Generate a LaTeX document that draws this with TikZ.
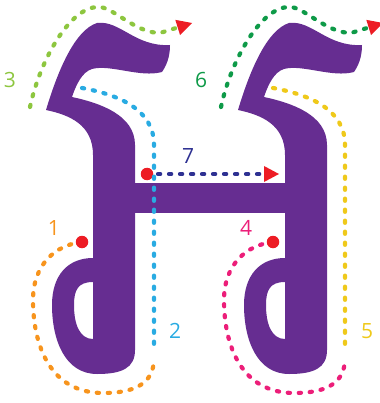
\documentclass[tikz,border=0pt]{standalone}
\usepackage{fontspec}
\newfontfamily\digitfont{Open Sans}
\usetikzlibrary{arrows.meta}
\definecolor{glpurple}{HTML}{662D91}
\definecolor{glred}{HTML}{ED1C24}
\definecolor{glorange}{HTML}{F7941D}
\definecolor{glblue}{HTML}{29ABE2}
\definecolor{gllime}{HTML}{8DC63F}
\definecolor{glpink}{HTML}{EC1E79}
\definecolor{glyellow}{HTML}{EFC91A}
\definecolor{glgreen}{HTML}{0E9A48}
\definecolor{glnavy}{HTML}{2E3192}
\tikzstyle{glyph}=[fill=glpurple,even odd rule]
\tikzstyle{dots}=[line width=4.2pt,line cap=round,dash pattern=on 2.2pt off 8.8pt]
\tikzstyle{tip}=[-{Triangle[length=15pt,width=16pt,line width=0pt,color=glred,fill=glred]}]
\tikzstyle{startdot}=[circle,fill=glred,inner sep=0pt,minimum size=12.5pt]
\tikzstyle{num}=[font=\digitfont\fontsize{21}{21}\selectfont,inner sep=0pt]
% one column of the letter: hook, stem and bowl with its hole
\newcommand{\glyphhalf}{%
  (46,110) .. controls (58,70) and (75,30) .. (97,23)
  .. controls (120,20) and (135,47) .. (170,45)
  .. controls (170,58) and (166,66) .. (162,72)
  .. controls (140,78) and (110,64) .. (92,69)
  .. controls (82,72) and (76,85) .. (72,97)
  .. controls (100,103) and (135,115) .. (135,145)
  -- (135,350)
  .. controls (135,368) and (122,374) .. (97,374)
  .. controls (65,374) and (52,340) .. (52,305)
  .. controls (52,275) and (68,258) .. (93,258)
  -- (93,155)
  .. controls (93,125) and (70,115) .. (46,110) -- cycle
  (93,282) -- (93,339)
  .. controls (80,339) and (74,325) .. (74,305)
  .. controls (74,290) and (78,282) .. (93,282) -- cycle}

\begin{document}
\begin{tikzpicture}[x=1pt,y=-1pt]
  \useasboundingbox (0,0) rectangle (379,403);
  % letter
  \fill[glyph] \glyphhalf;
  \fill[glyph,shift={(192,0)}] \glyphhalf;
  \fill[glyph] (130,183) rectangle (290,213);

  % left column: strokes 1, 2, 3
  \draw[dots,glorange] (82,242) .. controls (55,245) and (33,265) .. (33,300)
    .. controls (33,345) and (50,393) .. (103,393) .. controls (140,393) and (154,380) .. (154,358);
  \node[startdot] (s1) at (82,242) {};
  \draw[dots,gllime,tip] (30,107) .. controls (40,60) and (70,7) .. (98,7)
    .. controls (112,6) and (135,33) .. (160,33) -- (192,23);

  % right column: strokes 4, 5, 6
  \draw[dots,glpink] (273,242) .. controls (246,245) and (224,265) .. (224,300)
    .. controls (224,345) and (241,393) .. (294,393) .. controls (331,393) and (345,380) .. (345,358);
  \node[startdot] (s4) at (273,242) {};
  \draw[dots,glyellow] (273,88) .. controls (311,95) and (345,110) .. (345,145) -- (345,352);
  \draw[dots,glgreen,tip] (221,107) .. controls (231,60) and (261,7) .. (289,7)
    .. controls (303,6) and (326,33) .. (351,33) -- (383,23);

  % crossbar: stroke 7, then stroke 2 on top
  \draw[dots,glnavy,tip] (147,174) -- (279,174);
  \node[startdot] (s7) at (147,174) {};
  \draw[dots,glblue] (82,88) .. controls (120,95) and (154,110) .. (154,145) -- (154,352);

  % numbers
  \node[num,text=glorange] (n1) at (54,228) {1};
  \node[num,text=glblue] (n2) at (175,331) {2};
  \node[num,text=gllime] (n3) at (10,80) {3};
  \node[num,text=glpink] (n4) at (246,228) {4};
  \node[num,text=glyellow] (n5) at (367,331) {5};
  \node[num,text=glgreen] (n6) at (201,80) {6};
  \node[num,text=glnavy] (n7) at (188,156) {7};
\end{tikzpicture}
\end{document}
